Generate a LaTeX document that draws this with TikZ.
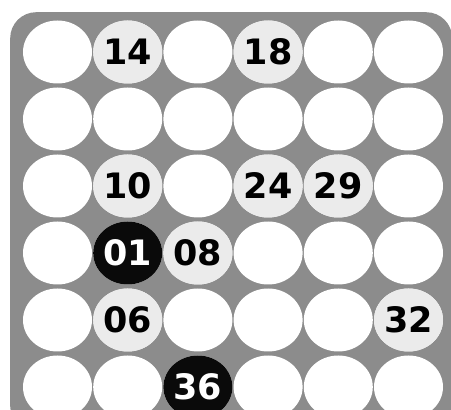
\documentclass[tikz,border=0pt]{standalone}
\usepackage{fontspec}
\setmainfont{DejaVu Sans}
\usetikzlibrary{shapes.geometric}
\definecolor{boardgrey}{HTML}{8C8C8C}
\definecolor{lightcell}{HTML}{EBEBEB}
\definecolor{darkcell}{HTML}{0A0A0A}
\begin{document}
\begin{tikzpicture}[x=1pt,y=1pt,
  cell/.style={ellipse, minimum width=69pt, minimum height=63pt, inner sep=0pt, fill=white, font=\bfseries\fontsize{35}{35}\selectfont},
  hit/.style={cell, fill=lightcell, text=black},
  drawn/.style={cell, fill=darkcell, text=white}]
\useasboundingbox (0,0) rectangle (451,410);
\clip (0,0) rectangle (451,410);
\fill[white] (0,0) rectangle (451,410);
\node[draw=none, fill=boardgrey, rounded corners=26pt, minimum width=442pt, minimum height=420pt, inner sep=0pt, anchor=north west] (board) at (10,398) {};
\foreach \c in {0,...,5}{
  \foreach \r in {0,...,5}{
    \node[cell] (c\c r\r) at ({57.5+70.2*\c}, {410-52-67*\r}) {};
  }
}
\node[hit] (n14) at ({57.5+70.2*1}, {410-52-67*0}) {14};
\node[hit] (n18) at ({57.5+70.2*3}, {410-52-67*0}) {18};
\node[hit] (n10) at ({57.5+70.2*1}, {410-52-67*2}) {10};
\node[hit] (n24) at ({57.5+70.2*3}, {410-52-67*2}) {24};
\node[hit] (n29) at ({57.5+70.2*4}, {410-52-67*2}) {29};
\node[drawn] (n01) at ({57.5+70.2*1}, {410-52-67*3}) {01};
\node[hit] (n08) at ({57.5+70.2*2}, {410-52-67*3}) {08};
\node[hit] (n06) at ({57.5+70.2*1}, {410-52-67*4}) {06};
\node[hit] (n32) at ({57.5+70.2*5}, {410-52-67*4}) {32};
\node[drawn] (n36) at ({57.5+70.2*2}, {410-52-67*5}) {36};
\end{tikzpicture}
\end{document}
